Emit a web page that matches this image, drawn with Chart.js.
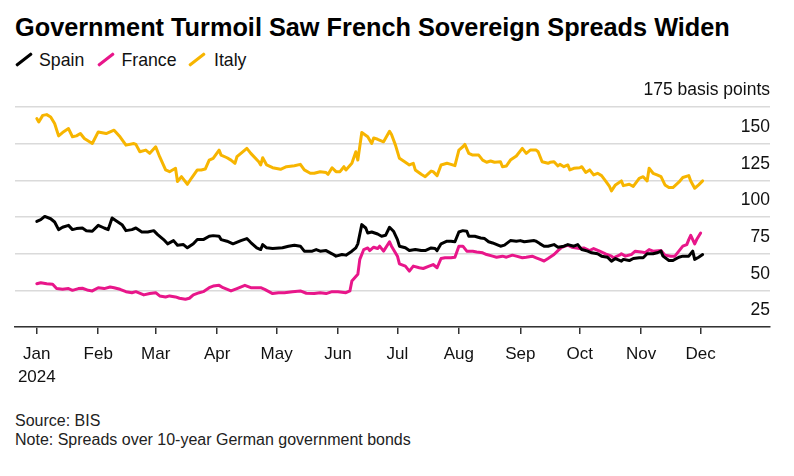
<!DOCTYPE html>
<html><head><meta charset="utf-8">
<script src="https://cdn.jsdelivr.net/npm/chart.js@4.4.0/dist/chart.umd.min.js"></script>
<style>
body{margin:0;background:#fff;width:794px;height:476px;overflow:hidden;font-family:"Liberation Sans",Arial,sans-serif;color:#000;position:relative}
#title{position:absolute;left:15px;top:12px;font-size:25.3px;line-height:30px;font-weight:bold;white-space:nowrap}
.lt{position:absolute;top:50px;font-size:17.7px;line-height:20px;white-space:nowrap;color:#111}
.sw{position:absolute;width:20px;height:3px;transform:rotate(-38deg);border-radius:1px}
#notes{position:absolute;left:15px;top:412px;font-size:16px;line-height:18.5px;color:#222}
#wrap{position:absolute;left:0;top:70px;width:794px;height:315px}
</style></head>
<body>
<div id="title">Government Turmoil Saw French Sovereign Spreads Widen</div>
<span class="sw" style="background:#000;left:14px;top:58px"></span><span class="lt" style="left:39px">Spain</span>
<span class="sw" style="background:#E8168A;left:96px;top:58px"></span><span class="lt" style="left:121.5px">France</span>
<span class="sw" style="background:#F7B500;left:187px;top:58px"></span><span class="lt" style="left:214px">Italy</span>
<div id="wrap"><canvas id="c"></canvas></div>
<div id="notes">Source: BIS<br>Note: Spreads over 10-year German government bonds</div>
<script>
// x values are day of year 2024 (0 = Jan 1)
const monthStarts = [0,31,60,91,121,152,182,213,244,274,305,335];
const monthLabels = ["Jan","Feb","Mar","Apr","May","Jun","Jul","Aug","Sep","Oct","Nov","Dec"];
const yTicks = [25,50,75,100,125,150,175];

const italyDays = [0,1,3,5,7,9,11,13,16,18,20,22,24,28,31,35,39,42,45,49,50,52,55,57,60,62,65,67,70,71,73,76,78,81,83,85,87,89,92,93,96,98,100,101,103,106,108,112,113,114,116,119,123,126,130,133,135,138,140,143,146,147,149,151,153,155,156,159,161,162,164,167,169,170,172,175,178,179,181,183,186,188,190,191,194,196,199,200,202,204,207,209,211,213,215,216,218,220,223,225,227,229,231,234,235,237,239,242,245,247,249,252,253,255,258,259,261,263,264,266,268,269,271,274,275,277,279,281,283,285,287,289,290,292,295,296,299,301,304,306,308,309,311,313,315,317,319,321,324,326,329,330,332,334,336];
const italyValues = [167.1,164.8,169.3,169.8,168.2,163.7,155.3,157.6,160.3,154.7,155.3,156.9,153.5,150.1,158,156.9,159.2,154.7,149,150.1,149.5,144.5,145.6,143.4,147.9,141.1,132.1,130.9,133.2,124.2,127.5,122.3,126.4,132.1,132.1,132.7,138.8,140,145.6,142.2,140.4,138.8,136.6,141.1,143.4,146.8,143.4,137.7,135.5,140.4,135.5,133.6,132.5,134.3,135,135.9,132.1,129.8,129.8,130.9,130.3,129.1,133.6,130.9,130.9,134.3,132.1,136.6,144.5,138.8,157.6,154.7,150.1,153.9,153,151.3,158.5,156.2,149,140,137.3,135.5,136.6,132.1,129.1,127.5,131.3,130.9,128.2,135.5,136.6,135.9,135,145.6,147.9,149.5,143.4,142.2,142.2,138.8,137.3,138.2,137.3,137.7,134.3,134.8,138.8,141.6,146.8,143.4,145.6,145.6,144.5,137.7,136.6,137.3,137.7,134.8,135.9,134.3,135.5,132.1,133.2,133.6,134.3,130.4,132.1,128.7,129.8,128.2,124.6,120.8,117.8,121.9,124.6,121.4,122.3,120.8,126.4,127.5,124.6,133.2,129.8,128.7,127.5,121.9,120.1,120.1,123.7,126.9,128.2,124.6,119.6,121.9,124.6];

const spainDays = [0,2,4,7,9,11,13,16,18,20,23,25,28,31,34,36,38,40,43,45,48,50,53,56,59,61,64,66,69,71,74,76,79,81,84,87,89,92,93,96,99,103,106,108,111,113,114,116,119,124,127,130,133,135,139,141,143,146,149,151,154,156,159,161,162,164,166,167,169,172,174,176,178,180,182,183,186,188,191,194,196,199,201,202,204,207,209,211,213,215,217,218,221,224,226,228,230,234,236,239,242,244,246,248,251,252,254,256,258,261,263,266,268,271,273,275,278,280,283,285,288,290,292,295,296,299,301,304,306,308,311,313,315,316,319,321,324,326,329,331,332,334,336];
const spainValues = [97,98.2,100.4,98.8,96.6,91.4,93,94.3,91.4,92.1,92.5,90.7,90.3,94.3,92.5,91.4,99.3,97.5,94.8,90.7,91.4,92.5,89.8,89.8,90.7,88,84.6,81.7,83.9,80.8,81.2,79,81.7,84.6,84.6,86.9,87.3,86.9,84.6,83.5,81.7,83.9,85.3,82.6,79,77.8,81.2,79,78.5,79,80.1,80.8,80.1,76.7,76.7,77.8,76.7,77.1,74.9,73.3,74.4,74,76.7,79,81.7,94.8,92.5,89.1,89.8,88.4,86.9,87.5,93,90.3,84.6,80.1,79,77.1,77.8,77.1,77.1,78.9,78.5,77.1,81.7,83.5,83.5,83.1,89.8,90.7,90.3,86.9,86.9,85.7,85.3,83.1,82.3,80.1,80.8,83.9,83.5,83.9,83.1,83.5,83.9,83.5,81.7,80.1,80.1,81.2,79.4,80.1,81.2,80.1,81.2,77.8,76.7,75.6,74.9,73.3,72.6,69.9,71.7,69.9,71.1,70.3,71.7,72.2,72.2,74.9,74.9,75.6,76.7,73.3,70.3,70.3,72.6,73.3,73.3,76.7,71.1,72.6,74.4];

const franceDays = [0,2,5,8,10,13,16,18,21,23,26,28,31,34,37,39,42,45,48,50,54,57,60,62,65,67,70,72,75,77,79,82,84,87,89,92,94,98,101,105,108,113,115,119,122,125,129,133,136,140,143,146,149,152,156,158,159,162,163,165,167,168,170,172,173,175,178,179,182,183,186,188,190,193,195,198,200,202,204,206,209,211,213,215,217,220,222,225,227,230,232,235,237,240,242,245,247,250,252,254,256,258,261,263,265,268,270,274,276,279,281,284,287,290,291,294,295,297,300,302,305,307,309,311,315,317,320,322,324,326,328,329,330,332,333,335];
const franceValues = [54.5,55.2,54.5,54.1,51.2,50.7,51.2,50,51.2,51.4,50,49.6,51.8,51.2,52.3,51.8,50.7,49.1,48.4,49.1,46.9,47.8,48.4,46.2,45.5,46.2,45.5,44.6,43.9,44.6,46.9,48.4,49.1,51.8,52.9,53.4,51.8,49.6,51.2,53.4,51.8,51.8,50.7,47.8,48.4,48.4,49.1,49.6,48,47.8,48.4,47.8,49.1,49.1,48.4,49.6,56.4,60.9,71.1,77.8,78.9,77.1,79.4,78.5,80.1,76.7,83.1,80.1,73.3,68.1,66.5,63.1,66.5,65.4,64.9,66.5,67.6,65.4,71.7,72.2,72.2,72.6,80.1,80.1,76.7,76.7,76.2,75.6,74.4,73.3,72.6,73.3,72.6,74,73.3,72.2,72.6,73.3,72.2,71.1,70,71.7,74.4,77.1,79.4,80.8,79.4,78.5,78.9,77.1,78.5,76.7,74.9,73.3,72.2,74,74.9,73.3,74.4,76.7,76.2,75.6,77.8,76.7,77.1,74,73.3,73.3,76.7,80.1,81.2,84.6,87.5,81.7,84.6,89.1];

function pts(days, vals){ return days.map((d,i)=>({x:d,y:vals[i]})); }
const lineStyle = {borderWidth:3, pointRadius:0, pointHoverRadius:0, tension:0, borderJoinStyle:'round', borderCapStyle:'round', fill:false};
const FAM = '"Liberation Sans", Arial, sans-serif';

new Chart(document.getElementById('c'), {
  type:'line',
  data:{datasets:[
    Object.assign({label:'Spain', data:pts(spainDays, spainValues), borderColor:'#000000'}, lineStyle),
    Object.assign({label:'France', data:pts(franceDays, franceValues), borderColor:'#E8168A'}, lineStyle),
    Object.assign({label:'Italy', data:pts(italyDays, italyValues), borderColor:'#F7B500'}, lineStyle)
  ]},
  options:{
    responsive:true, maintainAspectRatio:false, animation:false, devicePixelRatio:1,
    layout:{padding:{top:37,left:15,right:24,bottom:0}},
    plugins:{legend:{display:false}, tooltip:{enabled:false}},
    scales:{
      x:{type:'linear', min:-11, max:370,
        afterBuildTicks:s=>{ s.ticks = monthStarts.map(v=>({value:v})); },
        afterFit:s=>{ s.height = 58; },
        grid:{drawOnChartArea:false, drawTicks:true, tickLength:7, color:'#333', lineWidth:1.5},
        border:{display:true, color:'#333', width:1.5},
        ticks:{autoSkip:false, maxRotation:0, padding:9, color:'#111',
          font:{size:17, family:FAM, lineHeight:1.35},
          callback:(v)=>{ const i = monthStarts.indexOf(v); return i===0 ? ['Jan','2024'] : monthLabels[i]; }}
      },
      y:{position:'right', min:25, max:175,
        afterBuildTicks:s=>{ s.ticks = yTicks.map(v=>({value:v})); },
        grid:{color:'#dadada', lineWidth:1.5, drawTicks:false},
        border:{display:false},
        ticks:{mirror:true, padding:0, labelOffset:-16.5, color:'#111',
          font:{size:17.5, family:FAM},
          callback:(v)=> v===175 ? '175 basis points' : String(v)}
      }
    }
  }
});
</script>
</body></html>
